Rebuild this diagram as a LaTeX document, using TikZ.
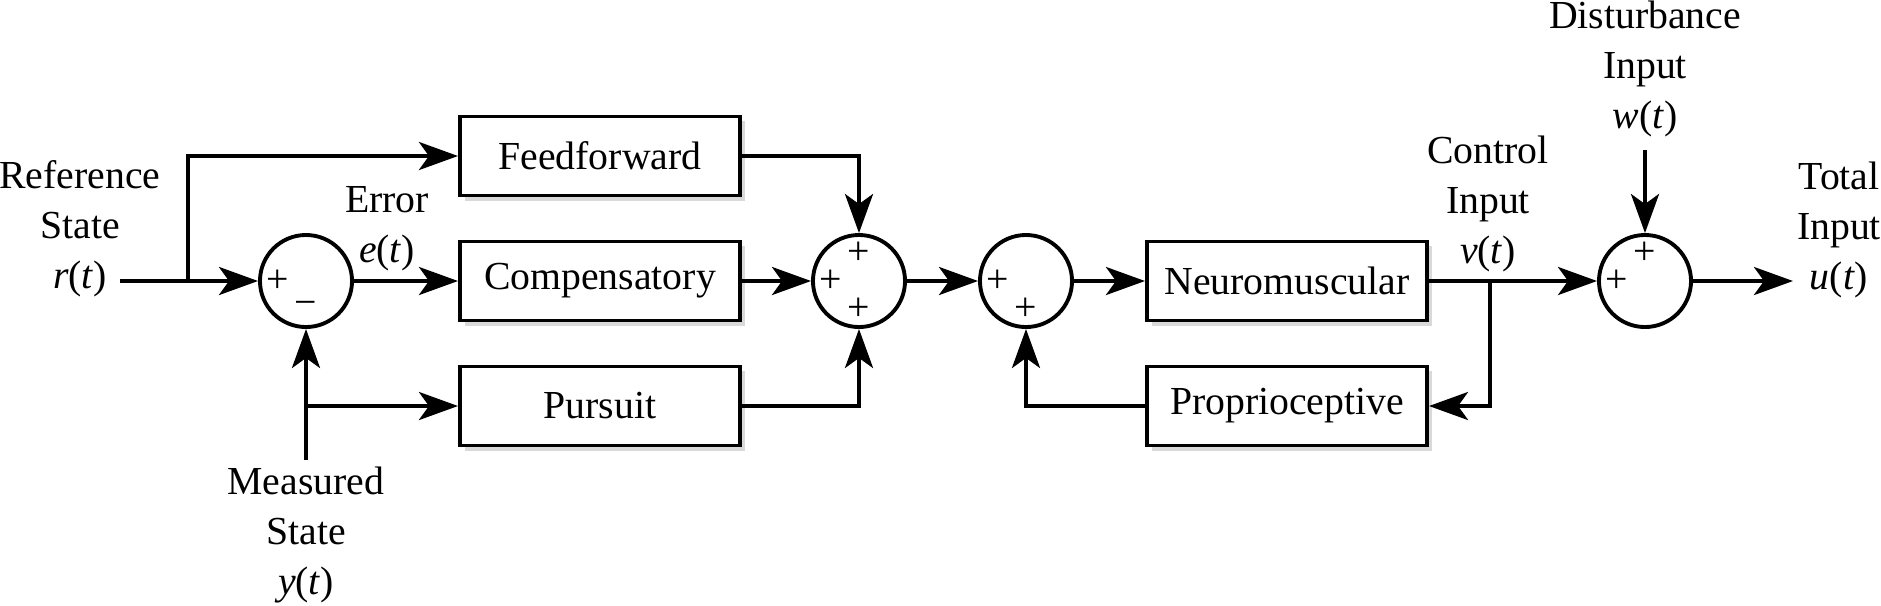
\documentclass[tikz,border=0pt]{standalone}
\usepackage{fontspec}
\setmainfont{Liberation Serif}
\usetikzlibrary{arrows.meta}
\usetikzlibrary{shadows}
\tikzset{block/.style={draw, line width=1.1pt, fill=white, minimum width=2.8cm, minimum height=0.79cm,
  drop shadow={shadow xshift=0.5mm, shadow yshift=-0.5mm, opacity=0.3}},
%summing junctions
sumnode/.style={draw, circle, line width=1.1pt, fill=white, minimum size=0.92cm, inner sep=0pt},
signal/.style={align=center, inner sep=0pt}}
\newcommand{\sigt}[1]{\textit{#1}(\textit{t})}

\begin{document}
\begin{tikzpicture}[x=0.01cm, y=-0.01cm, line width=1.1pt,
  >={Stealth[length=3.9mm,width=2.8mm,inset=1mm]}, font=\fontsize{11.3}{14.2}\selectfont]
\useasboundingbox (0,0) rectangle (1881,605);
% blocks
\node[block] (ff) at (600,156) {Feedforward};
\node[block] (comp) at (600,281) {Compensatory};
\node[block] (purs) at (600,406) {Pursuit};
\node[block] (neuro) at (1287,281) {Neuromuscular};
\node[block] (prop) at (1287,406) {Proprioceptive};

% sums
\node[sumnode] (s1) at (306,281) {};
\node[sumnode] (s2) at (859,281) {};
\node[sumnode] (s3) at (1026,281) {};
\node[sumnode] (s4) at (1645,281) {};

\foreach \sumn/\dx/\dy/\sgn in {s1/-28/0/+, s1/0/27/−, s2/0/-28/+, s2/-28/0/+, s2/0/28/+,
    s3/-28/0/+, s3/0/28/+, s4/-28/0/+, s4/0/-28/+}
  \node[inner sep=0pt] at ([shift={(\dx,\dy)}]\sumn.center) {\sgn};

% labels
\node[signal] (reflbl) at (80,229) {Reference\\State\\\sigt{r}};
\node[signal] (errlbl) at (387,229) {Error\\\sigt{e}};
\node[signal] (measlbl) at (306,535) {Measured\\State\\\sigt{y}};
\node[signal] (ctrllbl) at (1488,204) {Control\\Input\\\sigt{v}};
\node[signal] (distlbl) at (1645,69) {Disturbance\\Input\\\sigt{w}};
\node[signal] (totlbl) at (1839,230) {Total\\Input\\\sigt{u}};

\coordinate (rin) at (120,281);
\coordinate (br1) at (188,281);
\coordinate (yin) at (306,460);
\coordinate (br2) at (306,406);
\coordinate (br3) at (1490,281);
\coordinate (win) at (1645,150);
\coordinate (uout) at (1793,281);

% connectors
\draw[->] (rin) -- (s1.west);
\draw[->] (br1) |- (ff.west);
\draw[->] (s1.east) -- (comp.west);
\draw[->] (yin) -- (s1.south);
\draw[->] (br2) -- (purs.west);
\draw[->] (ff.east) -| (s2.north);
\draw[->] (comp.east) -- (s2.west);
\draw[->] (purs.east) -| (s2.south);
\draw[->] (s2.east) -- (s3.west);
\draw[->] (s3.east) -- (neuro.west);
\draw[->] (prop.west) -| (s3.south);
\draw[->] (neuro.east) -- (s4.west);
\draw[->] (br3) |- (prop.east);
\draw[->] (win) -- (s4.north);
\draw[->] (s4.east) -- (uout);

\end{tikzpicture}
\end{document}
